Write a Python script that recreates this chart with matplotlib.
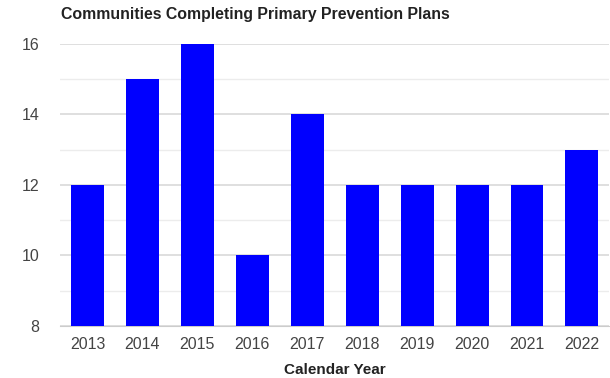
import matplotlib
matplotlib.use('Agg')
import matplotlib.pyplot as plt
from matplotlib.ticker import MultipleLocator

plt.rcParams['font.family'] = ['Liberation Sans', 'DejaVu Sans']

years = ['2013', '2014', '2015', '2016', '2017', '2018', '2019', '2020', '2021', '2022']
plans = [12, 15, 16, 10, 14, 12, 12, 12, 12, 13]

fig = plt.figure(figsize=(6.1, 3.78), dpi=100)
ax = fig.add_axes([0.0984, 0.1376, 0.9006, 0.746])

ax.bar(range(len(years)), plans, width=0.6, color='#0000ff', zorder=3)

ax.set_ylim(8, 16)
ax.set_xlim(-0.5, len(years) - 0.5)
ax.yaxis.set_major_locator(MultipleLocator(2))
ax.yaxis.set_minor_locator(MultipleLocator(1))
ax.grid(True, which='major', axis='y', color='#d9d9d9', linewidth=1.2, zorder=0)
ax.grid(True, which='minor', axis='y', color='#ececec', linewidth=1, zorder=0)
ax.set_xticks(range(len(years)))
ax.set_xticklabels(years)

for s in ['top', 'right', 'left']:
    ax.spines[s].set_visible(False)
ax.spines['bottom'].set_color('#cccccc')
ax.tick_params(axis='both', which='both', length=0, labelsize=11.5, labelcolor='#444444')
ax.tick_params(axis='x', pad=8)
ax.tick_params(axis='y', pad=15)

ax.set_xlabel('Calendar Year', fontsize=11, fontweight='bold', color='#222222', labelpad=8)
fig.text(0.1, 0.962, 'Communities Completing Primary Prevention Plans', fontsize=11.4,
         fontweight='bold', color='#222222', va='center', ha='left')

fig.savefig('out.png', dpi=100)
